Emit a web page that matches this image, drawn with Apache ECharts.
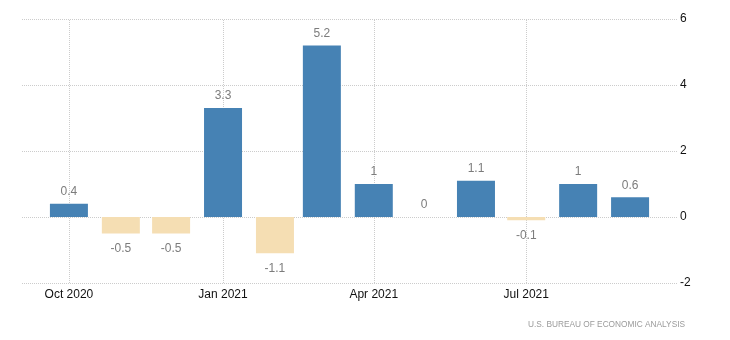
<!DOCTYPE html>
<html>
<head>
<meta charset="utf-8">
<script src="https://cdn.jsdelivr.net/npm/echarts@6/dist/echarts.min.js"></script>
<style>
  html, body { margin: 0; padding: 0; background: #fff; }
  #chart { width: 730px; height: 340px; }
</style>
</head>
<body>
<div id="chart"></div>
<script>
// Monthly change, percent
const months = ['2020-10', '2020-11', '2020-12', '2021-01', '2021-02', '2021-03',
                '2021-04', '2021-05', '2021-06', '2021-07', '2021-08', '2021-09'];
const values = [0.4, -0.5, -0.5, 3.3, -1.1, 5.2, 1, 0, 1.1, -0.1, 1, 0.6];

// Quarterly ticks on the time axis
const tickMonths = ['2020-10', '2021-01', '2021-04', '2021-07'];
const tickLabels = ['Oct 2020', 'Jan 2021', 'Apr 2021', 'Jul 2021'];

// Date range handed to the axis (ECharts widens it by half a bar on each side)
const rangeStart = '2020-09-14-08';
const rangeEnd = '2021-09-17-16';
const yMin = -2, yMax = 6, yStep = 2;

const sourceText = 'U.S. BUREAU OF ECONOMIC ANALYSIS';

// 'YYYY-MM[-DD[-HH]]' -> timestamp
function toTime(s) {
  const p = s.split('-').map(Number);
  return new Date(p[0], p[1] - 1, p[2] || 1, p[3] || 0).getTime();
}

const tickTimes = tickMonths.map(toTime);

const seriesData = months.map((m, i) => {
  const v = values[i];
  const neg = v < 0;
  return {
    value: [toTime(m), v],
    itemStyle: { color: neg ? '#f5deb3' : '#4682b4' },
    label: { position: neg ? 'bottom' : 'top', distance: neg ? 9 : 6 }
  };
});

// Quarter gridlines with their labels under the plot
const quarterLines = tickTimes.map((t, i) => ({
  xAxis: t,
  label: { formatter: tickLabels[i] }
}));

const chart = echarts.init(document.getElementById('chart'), null, { renderer: 'canvas' });
chart.setOption({
  animation: false,
  backgroundColor: '#fff',
  textStyle: { fontFamily: 'Liberation Sans' },
  grid: { left: 22, right: 53, top: 19, bottom: 57, containLabel: false },
  xAxis: {
    type: 'time',
    min: toTime(rangeStart),
    max: toTime(rangeEnd),
    axisLine: { show: false },
    axisTick: { show: false },
    axisLabel: { show: false },
    splitLine: { show: false }
  },
  yAxis: {
    type: 'value',
    position: 'right',
    min: yMin,
    max: yMax,
    interval: yStep,
    axisLine: { show: false },
    axisTick: { show: false },
    axisLabel: { color: '#111', fontSize: 12, margin: 3 },
    splitLine: { show: true, lineStyle: { color: '#ccc', type: 'dotted', width: 1 } }
  },
  series: [{
    type: 'bar',
    barWidth: 38,
    data: seriesData,
    z: 3,
    label: {
      show: true,
      color: '#7c7c7c',
      fontSize: 12,
      formatter: function (p) { return String(p.value[1]); }
    },
    markLine: {
      silent: true,
      symbol: 'none',
      z: 1,
      lineStyle: { color: '#ccc', type: 'dotted', width: 1 },
      label: { show: true, position: 'start', distance: 6, color: '#111', fontSize: 12 },
      emphasis: { disabled: true },
      data: quarterLines
    }
  }],
  graphic: [{
    type: 'text',
    right: 45,
    top: 321,
    style: { text: sourceText, fill: '#9a9a9a', fontSize: 8.3, fontFamily: 'Liberation Sans' }
  }]
});
</script>
</body>
</html>
